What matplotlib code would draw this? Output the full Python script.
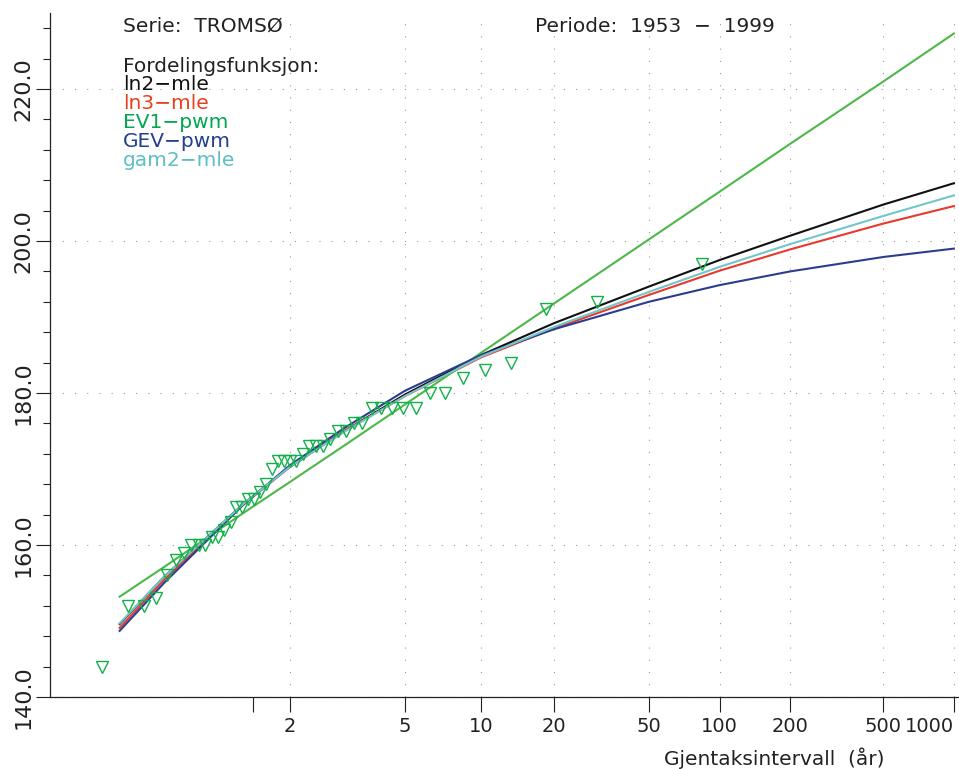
import numpy as np
import matplotlib
matplotlib.use('Agg')
from matplotlib import pyplot as plt
from matplotlib.ticker import FixedLocator, NullFormatter, FormatStrFormatter

returnPeriods = [1.025, 1.1, 1.5, 2, 3, 5, 10, 20, 50, 100, 200, 500, 1000]

ln2Mle  = [149.6, 155.8, 165.4, 170.3, 175.0, 179.8, 185.0, 189.2, 194.0, 197.5, 200.7, 204.8, 207.6]
ln3Mle  = [149.1, 155.4, 165.3, 170.3, 175.0, 179.6, 184.7, 188.5, 192.9, 196.1, 198.9, 202.3, 204.6]
ev1Pwm  = [153.2, 157.1, 164.2, 168.3, 173.1, 178.5, 185.3, 191.8, 200.2, 206.5, 212.8, 221.0, 227.3]
gevPwm  = [148.7, 155.0, 165.3, 170.5, 175.4, 180.3, 185.0, 188.4, 192.0, 194.2, 196.0, 197.9, 199.0]
gam2Mle = [149.7, 155.8, 165.4, 170.3, 174.9, 179.6, 184.8, 188.7, 193.3, 196.6, 199.6, 203.3, 206.0]

# annual values 1953-1999, sorted
observed = [144, 152, 152, 153, 156, 158, 159, 160, 160, 160, 161, 161, 162, 163, 165, 165,
            166, 166, 167, 168, 170, 171, 171, 171, 171, 172, 173, 173, 173, 174, 175, 175,
            176, 176, 178, 178, 178, 178, 178, 180, 180, 182, 183, 184, 191, 192, 197]

tickPeriods = [2, 5, 10, 20, 50, 100, 200, 500, 1000]
tickLabels = ['2', '5', '10', '20', '50', '100', '200', '500', '1000']

curves = [
    ('ln2\u2212mle', ln2Mle, '#111111', '#111111'),
    ('ln3\u2212mle', ln3Mle, '#e8392c', '#e8401c'),
    ('EV1\u2212pwm', ev1Pwm, '#4cb848', '#00a84f'),
    ('GEV\u2212pwm', gevPwm, '#2b3d8f', '#233f8f'),
    ('gam2\u2212mle', gam2Mle, '#72c6c9', '#5bbfc4'),
]


def gumbel(T):
    # Gumbel reduced variate for a return period
    T = np.asarray(T, dtype=float)
    return -np.log(-np.log(1.0 - 1.0 / T))


plt.rcParams['font.family'] = ['DejaVu Sans']

W, H = 959, 769
fig = plt.figure(figsize=(W / 100, H / 100), dpi=100)
x0, x1 = 49.8, 963.3
y0, y1 = 13, 697
ax = fig.add_axes([x0 / W, 1 - y1 / H, (x1 - x0) / W, (y1 - y0) / H])

for name, values, color, textColor in curves:
    ax.plot(gumbel(returnPeriods), values, color=color, lw=1.5, zorder=3)

# Gringorten plotting positions
n = len(observed)
rank = np.arange(1, n + 1)
F = (rank - 0.44) / (n + 0.12)
ax.plot(-np.log(-np.log(F)), observed, linestyle='none', marker='v', markersize=8.5,
        markerfacecolor='none', markeredgecolor='#12b04a', markeredgewidth=1.0, zorder=4)

ax.set_xlim(-2, 7)
ax.set_ylim(140, 230)

ax.xaxis.set_major_locator(FixedLocator(gumbel(tickPeriods)))
ax.set_xticklabels(tickLabels)
ax.xaxis.set_minor_locator(FixedLocator([0.0]))
ax.xaxis.set_minor_formatter(NullFormatter())

ax.yaxis.set_major_locator(FixedLocator([140, 160, 180, 200, 220]))
ax.yaxis.set_minor_locator(FixedLocator([v for v in range(144, 230, 4) if v % 20 != 0]))
ax.yaxis.set_major_formatter(FormatStrFormatter('%.1f'))

ax.tick_params(axis='x', which='both', direction='out', length=10.8, width=0.8,
               pad=3.5, labelsize=14, colors='#222222')
ax.tick_params(axis='y', which='major', direction='out', length=10, width=0.8,
               pad=2, labelsize=16, labelrotation=90, colors='#222222')
ax.tick_params(axis='y', which='minor', direction='out', length=5, width=0.8, colors='#222222')
for lab in ax.get_yticklabels():
    lab.set_verticalalignment('center')
# last label sits flush against the right edge
ax.get_xticklabels()[-1].set_horizontalalignment('right')

for s in ['top', 'right']:
    ax.spines[s].set_visible(False)
for s in ['left', 'bottom']:
    ax.spines[s].set_linewidth(0.9)
    ax.spines[s].set_color('#222222')

ax.grid(True, which='major', color='#999999', linewidth=0.8, linestyle=(0, (1, 10)))
ax.set_axisbelow(True)

def figText(px, py, s, color='#222222', ha='left'):
    fig.text(px / W, 1 - py / H, s, color=color, fontsize=14.5, ha=ha, va='baseline')

figText(123, 32, 'Serie:  TROMS\u00d8')
figText(535, 32, 'Periode:  1953  \u2212  1999')
figText(123, 72, 'Fordelingsfunksjon:')
for i, (name, values, color, textColor) in enumerate(curves):
    figText(123, 90 + 19 * i, name, color=textColor)

figText(885, 765, 'Gjentaksintervall  (\u00e5r)', ha='right')

fig.savefig('out.png', dpi=100)
